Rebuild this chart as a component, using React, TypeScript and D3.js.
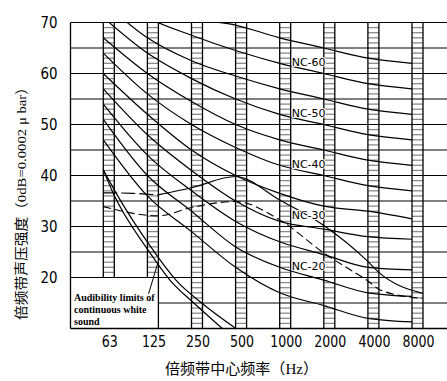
import React from "react";
import * as d3 from "d3";

const W = 447;
const H = 381;

// octave bands
const bandLabels = ["63", "125", "250", "500", "1000", "2000", "4000", "8000"];
const bandHz = [62.5, 125, 250, 500, 1000, 2000, 4000, 8000];
const yTicks = [20, 30, 40, 50, 60, 70];
const gridDb = [15, 20, 25, 30, 35, 40, 45, 50, 55, 60, 65, 70];

// NC curves (dB at each octave band)
const nc15 = [47, 36, 29, 22, 17, 14.5, 12, 11.3];
const nc20 = [51, 40, 33, 26, 22, 19.5, 17, 16.3];
const nc25 = [54, 44, 37, 31, 27, 24.5, 22, 21.5];
const nc30 = [57, 48, 41, 35, 31, 29.5, 28, 27.5];
const nc35 = [60, 52, 45, 40, 36.5, 34, 33, 31.5];
const nc40 = [64, 56, 50, 45.5, 42, 40, 38, 37];
const nc45 = [67, 60, 54.5, 50, 47, 45, 43, 42];
const nc50 = [71, 64, 59, 55, 52, 50, 48, 47];
const nc55 = [74, 67, 62.5, 59.5, 57, 55, 53, 52];
const nc60 = [77, 71, 67.5, 64.5, 62, 60, 58, 57];
const nc65 = [80, 75, 71, 69.5, 67, 65, 63, 62];
const ncValues = [nc15, nc20, nc25, nc30, nc35, nc40, nc45, nc50, nc55, nc60, nc65];
const ncLabelLevels = [20, 30, 40, 50, 60];

// audibility limits of continuous white sound (double line)
const audLHz = [62.5, 72.8, 126.1, 178.1, 263.8, 409.4];
const audLDb = [41.1, 36.6, 25.4, 19.5, 14.8, 9.9];
const audRHz = [62.5, 76.3, 136.4, 195.8, 299.1, 507.8];
const audRDb = [41.1, 36.6, 25.4, 19.5, 14.8, 9.9];

// upper curve (dashed at low end, then solid)
const upperDashHz = [62.5, 100, 147.5];
const upperDashDb = [36.6, 36.5, 36.2];
const upperHz = [147.5, 250, 500, 1000, 2000, 3912, 4703, 9424];
const upperDb = [36.2, 37.6, 39.8, 35.2, 30.2, 23.4, 21.1, 16.9];

// lower dashed curve
const dashHz = [62.5, 147.5, 263.8, 500, 1000, 2000, 4000, 4900, 9424];
const dashDb = [33.9, 32.1, 33.9, 34.9, 31.3, 24.8, 19.3, 17.5, 15.9];

const x = d3.scaleLog().domain([62.5, 8000]).range([103.3, 412]);
const y = d3.scaleLinear().domain([10, 70]).range([328.5, 22.5]);
const bandW = 11;
const plotL = 70.5;
const plotR = 447;

const zip = (a: number[], b: number[]) => a.map((v, i) => [v, b[i]] as [number, number]);
const line = d3
  .line<[number, number]>()
  .x((d) => x(d[0]))
  .y((d) => y(d[1]))
  .curve(d3.curveMonotoneX);

const tickFont = "'DejaVu Sans', sans-serif";
const titleFont = "'Liberation Serif', 'Noto Sans CJK SC', serif";

export default function App() {
  const rungs: JSX.Element[] = [];
  bandHz.forEach((f, i) => {
    const bottom = i < 2 ? 20 : 10;
    for (let db = bottom + 1; db < 70; db++) {
      if (db % 5 === 0) continue;
      rungs.push(
        <line
          key={`r${i}-${db}`}
          x1={x(f)}
          x2={x(f) + bandW}
          y1={y(db)}
          y2={y(db)}
          stroke="#8a8a8a"
          strokeWidth={1.3}
        />
      );
    }
  });

  return (
    <svg width={W} height={H} style={{ display: "block", position: "absolute", left: 0, top: 0 }}>
      <rect x={0} y={0} width={W} height={H} fill="#fff" />
      <defs>
        <clipPath id="plot">
          <rect x={plotL} y={y(70)} width={plotR - plotL} height={y(10) - y(70)} />
        </clipPath>
      </defs>

      {/* ladder bands */}
      {rungs}
      {bandHz.map((f, i) => {
        const bottom = i < 2 ? 20 : 10;
        return (
          <g key={`b${i}`} stroke="#000" strokeWidth={1.3}>
            <line x1={x(f)} x2={x(f)} y1={y(70)} y2={y(bottom)} />
            <line x1={x(f) + bandW} x2={x(f) + bandW} y1={y(70)} y2={y(bottom)} />
          </g>
        );
      })}
      {/* annotation box right border */}
      <line x1={x(125) + bandW} x2={x(125) + bandW} y1={y(20)} y2={y(10)} stroke="#000" strokeWidth={1.3} />

      {/* horizontal grid */}
      {gridDb.map((db) => (
        <line
          key={`g${db}`}
          x1={db === 15 ? x(125) + bandW : plotL}
          x2={plotR}
          y1={y(db)}
          y2={y(db)}
          stroke="#000"
          strokeWidth={1}
        />
      ))}
      {/* axes */}
      <line x1={plotL} x2={plotL} y1={y(70)} y2={y(10)} stroke="#000" strokeWidth={1.3} />
      <line x1={plotL} x2={plotR} y1={y(10)} y2={y(10)} stroke="#000" strokeWidth={1.3} />

      <g clipPath="url(#plot)" fill="none" stroke="#000">
        {ncValues.map((vals, i) => (
          <path key={`nc${i}`} d={line(zip(bandHz, vals)) || ""} strokeWidth={1.2} />
        ))}
        <path d={line(zip(audLHz, audLDb)) || ""} strokeWidth={1.2} />
        <path d={line(zip(audRHz, audRDb)) || ""} strokeWidth={1.2} />
        <path d={line(zip(upperDashHz, upperDashDb)) || ""} strokeWidth={1.1} strokeDasharray="14,4" />
        <path d={line(zip(upperHz, upperDb)) || ""} strokeWidth={1.2} />
        <path d={line(zip(dashHz, dashDb)) || ""} strokeWidth={1.1} strokeDasharray="8,4" />
      </g>

      {/* NC labels */}
      {ncLabelLevels.map((nc) => (
        <text
          key={`l${nc}`}
          x={x(1000) + bandW + 1}
          y={y(nc + 2.3) + 4}
          fontFamily={tickFont}
          fontSize={11}
          fill="#000"
          stroke="#fff"
          strokeWidth={2}
          paintOrder="stroke"
        >
          {`NC-${nc}`}
        </text>
      ))}

      {/* y tick labels */}
      {yTicks.map((t) => (
        <text
          key={`yt${t}`}
          x={57.5}
          y={y(t) + 5.8}
          textAnchor="end"
          fontFamily={tickFont}
          fontSize={16}
          textLength={17}
          lengthAdjust="spacingAndGlyphs"
          fill="#000"
        >
          {t}
        </text>
      ))}
      {/* x tick labels */}
      {bandHz.map((f, i) => (
        <text
          key={`xt${i}`}
          x={x(f) + bandW / 2 + 1}
          y={347}
          textAnchor="middle"
          fontFamily={tickFont}
          fontSize={16}
          textLength={bandLabels[i].length * 8}
          lengthAdjust="spacingAndGlyphs"
          fill="#000"
        >
          {bandLabels[i]}
        </text>
      ))}

      {/* axis titles */}
      <text
        x={241.5}
        y={374}
        textAnchor="middle"
        fontFamily={titleFont}
        fontSize={15}
        textLength={153}
        lengthAdjust="spacingAndGlyphs"
        fill="#000"
      >
        倍频带中心频率（Hz）
      </text>
      <text
        transform="translate(26,200) rotate(-90)"
        textAnchor="middle"
        fontFamily={titleFont}
        fontSize={13.5}
        textLength={240}
        lengthAdjust="spacingAndGlyphs"
        fill="#000"
      >
        倍频带声压强度（0dB=0.0002 μ bar）
      </text>

      {/* annotation */}
      <g fontFamily="'Liberation Serif', serif" fontWeight="bold" fontSize={10} fill="#000">
        <text x={74} y={301}>Audibility limits of</text>
        <text x={74} y={313}>continuous white</text>
        <text x={74} y={325}>sound</text>
      </g>
      <line x1={x(127.3)} y1={y(16.8)} x2={x(147.5)} y2={y(22.9)} stroke="#000" strokeWidth={1} />
    </svg>
  );
}
